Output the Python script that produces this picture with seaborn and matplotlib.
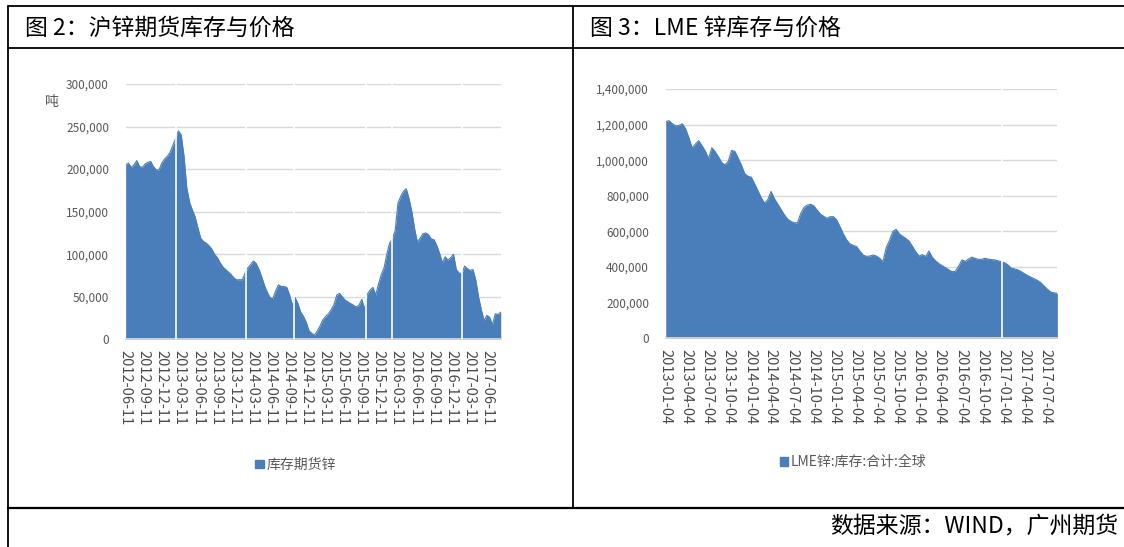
import numpy as np
import pandas as pd
import matplotlib
matplotlib.use("Agg")
import matplotlib.pyplot as plt
import matplotlib.ticker as mticker
from matplotlib.lines import Line2D
from matplotlib.patches import Patch
import seaborn as sns

# 上期所锌库存（吨），约两周一个点
shfe_start = "2012-06-11"
shfe_end = "2017-08-18"
shfe_stock = [
    205, 207, 202, 205, 210, 203, 202, 206, 208, 209,
    203, 199, 199, 207, 212, 215, 220, 228, 236, 245,
    240, 215, 178, 161, 152, 144, 131, 119, 115, 113,
    110, 106, 100, 96, 90, 85, 82, 79, 76, 72,
    70, 70, 70, 78, 84, 88, 92, 89, 82, 73,
    63, 55, 49, 48, 57, 64, 62, 62, 61, 52,
    40, 49, 42, 32, 27, 20, 10, 7, 5, 10,
    16, 23, 27, 30, 35, 41, 52, 54, 50, 46,
    44, 42, 40, 38, 40, 47, 35, 53, 58, 61,
    52, 65, 76, 84, 100, 113, 118, 128, 160, 168,
    174, 177, 165, 150, 130, 114, 119, 124, 125, 123,
    118, 117, 110, 101, 90, 97, 93, 96, 100, 82,
    78, 77, 86, 83, 81, 82, 70, 50, 35, 22,
    28, 26, 17, 30, 29, 32,
]
shfe_ticks = [
    "2012-06-11", "2012-09-11", "2012-12-11", "2013-03-11", "2013-06-11",
    "2013-09-11", "2013-12-11", "2014-03-11", "2014-06-11", "2014-09-11",
    "2014-12-11", "2015-03-11", "2015-06-11", "2015-09-11", "2015-12-11",
    "2016-03-11", "2016-06-11", "2016-09-11", "2016-12-11", "2017-03-11",
    "2017-06-11",
]
shfe_gaps = ["2013-02-18", "2014-02-07", "2014-10-10", "2015-10-08", "2016-02-14", "2017-02-04"]

# LME锌库存合计（吨），约两周一个点
lme_start = "2013-01-04"
lme_end = "2017-08-25"
lme_stock = [
    1217, 1222, 1205, 1193, 1195, 1205, 1178, 1128, 1070, 1090,
    1110, 1082, 1052, 1010, 1070, 1048, 1020, 987, 974, 994,
    1055, 1050, 1012, 972, 925, 910, 905, 868, 830, 790,
    760, 778, 825, 785, 755, 725, 695, 670, 657, 649,
    648, 700, 735, 748, 752, 744, 720, 698, 685, 674,
    683, 683, 663, 625, 585, 552, 530, 522, 515, 490,
    468, 460, 462, 468, 462, 450, 430, 510, 550, 600,
    612, 586, 573, 560, 545, 515, 485, 462, 470, 460,
    490, 455, 435, 420, 408, 397, 385, 374, 376, 405,
    440, 432, 445, 456, 449, 443, 444, 449, 445, 442,
    440, 435, 430, 424, 412, 394, 390, 384, 375, 363,
    352, 343, 334, 325, 312, 293, 275, 260, 255, 253,
]
lme_ticks = [
    "2013-01-04", "2013-04-04", "2013-07-04", "2013-10-04", "2014-01-04",
    "2014-04-04", "2014-07-04", "2014-10-04", "2015-01-04", "2015-04-04",
    "2015-07-04", "2015-10-04", "2016-01-04", "2016-04-04", "2016-07-04",
    "2016-10-04", "2017-01-04", "2017-04-04", "2017-07-04",
]
lme_gaps = ["2016-12-28"]

BLUE = "#4a7ebb"
GRID = "#d9d9d9"
TXT = "#595959"

sns.set_theme(style="white")
plt.rcParams["font.family"] = ["Noto Sans CJK SC", "DejaVu Sans"]

fig = plt.figure(figsize=(11.24, 5.47), dpi=100)


def area_panel(rect, start, end, stock, ticks, gaps, ymax, ystep):
    df = pd.DataFrame({
        "date": pd.date_range(start, end, periods=len(stock)),
        "stock": np.array(stock) * 1000.0,
    })
    ax = fig.add_axes(rect)
    ax.fill_between(df["date"], 0, df["stock"], color=BLUE, lw=0)
    sns.lineplot(data=df, x="date", y="stock", ax=ax, color=BLUE, lw=0.8)
    for g in gaps:
        ax.axvline(pd.Timestamp(g), color="white", lw=1.2, zorder=3)
    ax.set_xlim(df["date"].iloc[0], df["date"].iloc[-1])
    ax.set_ylim(0, ymax)
    ax.yaxis.set_major_locator(mticker.MultipleLocator(ystep))
    ax.yaxis.set_major_formatter(mticker.StrMethodFormatter("{x:,.0f}"))
    ax.set_xticks(pd.to_datetime(ticks))
    ax.set_xticklabels(ticks, rotation=270, ha="center", va="top",
                       fontsize=10.5, color="#4a4a4a")
    ax.tick_params(axis="y", labelsize=8.5, labelcolor=TXT, length=0, pad=12)
    ax.tick_params(axis="x", length=0, pad=8)
    ax.grid(axis="y", color=GRID, lw=1)
    ax.set_axisbelow(True)
    for s in ["top", "right", "left"]:
        ax.spines[s].set_visible(False)
    ax.spines["bottom"].set_color(GRID)
    ax.set_xlabel("")
    ax.set_ylabel("")
    return ax


ax1 = area_panel([0.1118, 0.3797, 0.3337, 0.4667], shfe_start, shfe_end,
                 shfe_stock, shfe_ticks, shfe_gaps, 300000, 50000)
ax2 = area_panel([0.5923, 0.3815, 0.3484, 0.4558], lme_start, lme_end,
                 lme_stock, lme_ticks, lme_gaps, 1400000, 200000)

fig.text(0.046, 0.8135, "吨", fontsize=10, color=TXT, ha="center", va="center")

fig.legend(handles=[Patch(color=BLUE, label="库存期货锌")], loc="center",
           bbox_to_anchor=(0.263, 0.150), frameon=False, fontsize=10,
           handlelength=0.6, handleheight=0.6, handletextpad=0.2,
           labelcolor=TXT)
fig.legend(handles=[Patch(color=BLUE, label="LME锌:库存:合计:全球")], loc="center",
           bbox_to_anchor=(0.759, 0.155), frameon=False, fontsize=10,
           handlelength=0.6, handleheight=0.6, handletextpad=0.2,
           labelcolor=TXT)

# 表格边框
H = 547.0
W = 1124.0
def hline(y, x0=8, x1=1124, lw=1.3):
    fig.add_artist(Line2D([x0 / W, x1 / W], [1 - y / H, 1 - y / H], color="black", lw=lw))
def vline(x, y0, y1, lw=1.3):
    fig.add_artist(Line2D([x / W, x / W], [1 - y0 / H, 1 - y1 / H], color="black", lw=lw))

hline(5.5)
hline(48.3)
hline(507.7, lw=1.6)
vline(8, 5.5, 547)
vline(573, 5.5, 507.7)

fig.text(25 / W, 1 - 28 / H, "图 2：沪锌期货库存与价格", fontsize=16.5, color="black",
         ha="left", va="center")
fig.text(590 / W, 1 - 28 / H, "图 3：LME 锌库存与价格", fontsize=16.5, color="black",
         ha="left", va="center")
fig.text(1118 / W, 1 - 527 / H, "数据来源：WIND，广州期货", fontsize=16.5, color="black",
         ha="right", va="center")

fig.savefig("out.png", dpi=100, facecolor="white")
